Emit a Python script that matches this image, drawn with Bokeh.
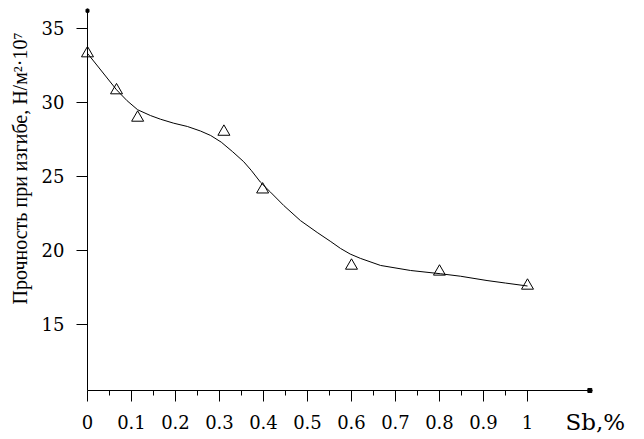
import numpy as np
from bokeh.plotting import figure
from bokeh.models import FixedTicker, NumeralTickFormatter, Label, Range1d
from bokeh.embed import file_html
from bokeh.resources import INLINE

# measured points (Sb content, %; bending strength, N/m^2*10^7)
sb = [0.0, 0.066, 0.114, 0.31, 0.398, 0.6, 0.8, 1.0]
strength = [33.3, 30.8, 28.95, 28.0, 24.1, 18.95, 18.55, 17.6]

# smooth trend curve
curve_x = [0.0, 0.066, 0.09, 0.114, 0.143, 0.166, 0.196, 0.227, 0.257, 0.280,
           0.304, 0.330, 0.355, 0.372, 0.393, 0.416, 0.446, 0.484, 0.522, 0.553,
           0.575, 0.597, 0.620, 0.666, 0.734, 0.802, 0.848, 0.908, 0.95, 1.0]
curve_y = [33.3, 30.84, 30.1, 29.49, 29.1, 28.85, 28.58, 28.36, 28.05, 27.75,
           27.3, 26.65, 25.98, 25.4, 24.6, 23.92, 23.02, 22.0, 21.2, 20.58,
           20.12, 19.74, 19.45, 18.97, 18.63, 18.41, 18.24, 17.95, 17.78, 17.58]

x_ticks = [0, 0.1, 0.2, 0.3, 0.4, 0.5, 0.6, 0.7, 0.8, 0.9, 1]
x_minor = [0.05, 0.15, 0.25, 0.35, 0.45, 0.55, 0.65, 0.75, 0.85, 0.95]
y_ticks = [15, 20, 25, 30, 35]

# axis extents (data units) and visible window
AX_X0, AX_X1 = 0.0, 1.1477
AX_Y0, AX_Y1 = 10.52, 36.33
VIEW_X = (-0.1977, 1.2659)
VIEW_Y = (7.209, 36.872)

y_label = "Прочность при изгибе, Н/м²·10⁷"
x_label = "Sb,%"

W, H = 644, 439

p = figure(width=W, height=H, output_backend="svg", toolbar_location=None,
           x_range=Range1d(*VIEW_X), y_range=Range1d(*VIEW_Y),
           min_border=0)
p.outline_line_color = None
p.grid.visible = False
p.background_fill_color = "white"
p.border_fill_color = "white"

tick_font = "DejaVu Serif"

p.xaxis.fixed_location = AX_Y0
p.xaxis.bounds = (AX_X0, AX_X1)
p.xaxis.ticker = FixedTicker(ticks=x_ticks, minor_ticks=x_minor)
p.xaxis.formatter = NumeralTickFormatter(format="0.[0]")
p.xaxis.major_tick_in = 0
p.xaxis.major_tick_out = 11
p.xaxis.minor_tick_in = 0
p.xaxis.minor_tick_out = 5
p.xaxis.major_label_standoff = 14
p.xaxis.major_label_text_font = tick_font
p.xaxis.major_label_text_font_size = "18px"
p.xaxis.major_label_text_color = "black"

p.yaxis.fixed_location = AX_X0
p.yaxis.bounds = (AX_Y0, AX_Y1)
p.yaxis.ticker = FixedTicker(ticks=y_ticks, minor_ticks=[])
p.yaxis.major_tick_in = 0
p.yaxis.major_tick_out = 11
p.yaxis.minor_tick_out = 0
p.yaxis.minor_tick_in = 0
p.yaxis.major_label_standoff = 12
p.yaxis.major_label_text_font = tick_font
p.yaxis.major_label_text_font_size = "18px"
p.yaxis.major_label_text_color = "black"

for ax in (p.xaxis, p.yaxis):
    ax.axis_line_color = "black"
    ax.axis_line_width = 1
    ax.major_tick_line_color = "black"
    ax.minor_tick_line_color = "black"

p.line(curve_x, curve_y, line_color="black", line_width=1)
p.scatter(sb, strength, marker="triangle", size=12, fill_color=None,
          line_color="black", line_width=1)

# small arrow tips at the axis ends
p.scatter([AX_X1 - 0.006], [AX_Y0], marker="square", size=4, color="black")
p.scatter([AX_X0], [AX_Y1 - 0.15], marker="square", size=3, color="black")

p.add_layout(Label(x=-0.1545, y=25.52, text=y_label, angle=np.pi / 2,
                   text_align="center", text_baseline="middle",
                   text_font="Liberation Serif", text_font_size="20px",
                   text_color="black"))
p.add_layout(Label(x=1.0864, y=8.4, text=x_label, text_align="left",
                   text_baseline="middle", text_font="DejaVu Serif",
                   text_font_size="23px", text_color="black"))

open("out.html", "w").write(file_html(p, INLINE))
